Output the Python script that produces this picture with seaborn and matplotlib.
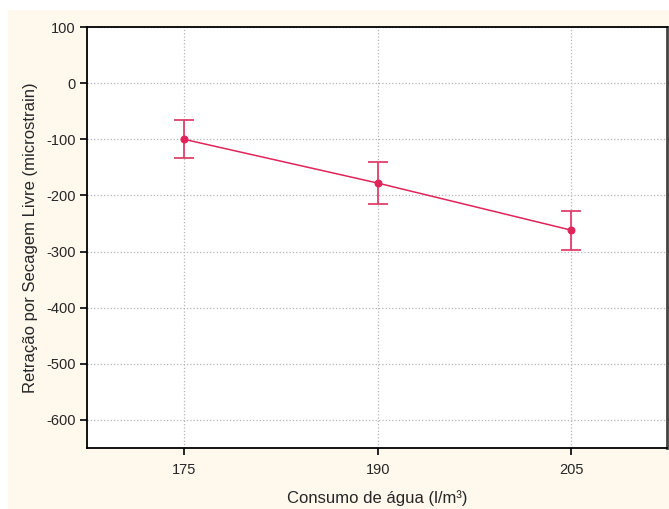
import numpy as np
import pandas as pd
import matplotlib
matplotlib.use('Agg')
import matplotlib.pyplot as plt
from matplotlib.patches import Rectangle
import seaborn as sns

consumo = [175, 190, 205]
retracao = [-100, -178, -262]
erro = [34, 38, 35]
y_ticks = [100, 0, -100, -200, -300, -400, -500, -600]

df = pd.DataFrame({'Consumo': consumo, 'Retracao': retracao, 'Erro': erro})

sns.set_style('white', {'xtick.bottom': True, 'ytick.left': True})
plt.rcParams['font.family'] = ['Liberation Sans', 'DejaVu Sans']
plt.rcParams['axes.unicode_minus'] = False
plt.rcParams['xtick.major.size'] = 5
plt.rcParams['ytick.major.size'] = 5
plt.rcParams['xtick.major.width'] = 1.2
plt.rcParams['ytick.major.width'] = 1.2

cor = '#e0245a'
fig = plt.figure(figsize=(6.69, 5.09), dpi=100, facecolor='white')
fig.patches.append(Rectangle((8 / 669, 0), 1, 1 - 10 / 509, transform=fig.transFigure,
                             facecolor='#fef9ec', edgecolor='none', zorder=-10))
ax = fig.add_axes([87 / 669, 61 / 509, 580 / 669, 421 / 509])
ax.set_facecolor('white')

sns.lineplot(data=df, x='Consumo', y='Retracao', ax=ax, color=cor, linewidth=1.1,
             marker='o', markersize=5, markeredgecolor=cor, zorder=3)
ax.errorbar(df['Consumo'], df['Retracao'], yerr=df['Erro'], fmt='none', ecolor='#e0406a',
            elinewidth=1.3, capsize=7, capthick=1.3, zorder=2)

ax.set_xlim(167.5, 212.4)
ax.set_ylim(-650, 100)
ax.set_xticks(consumo)
ax.set_yticks(y_ticks)
ax.grid(True, linestyle=':', color='#b5b5b5', linewidth=0.9)
ax.tick_params(axis='both', labelsize=10.5, direction='out', color='black',
               left=True, bottom=True)
ax.tick_params(axis='y', right=True, labelright=False, pad=3)
ax.tick_params(axis='x', pad=6)

for s in ['left', 'bottom', 'top']:
    ax.spines[s].set_color('black')
    ax.spines[s].set_linewidth(1.3)
ax.spines['right'].set_color('#444444')
ax.spines['right'].set_linewidth(2)

ax.set_xlabel('Consumo de água (l/m³)', fontsize=12, labelpad=9)
ax.set_ylabel('Retração por Secagem Livre (microstrain)', fontsize=12, labelpad=6)

fig.savefig('out.png', dpi=100, facecolor=fig.get_facecolor())
